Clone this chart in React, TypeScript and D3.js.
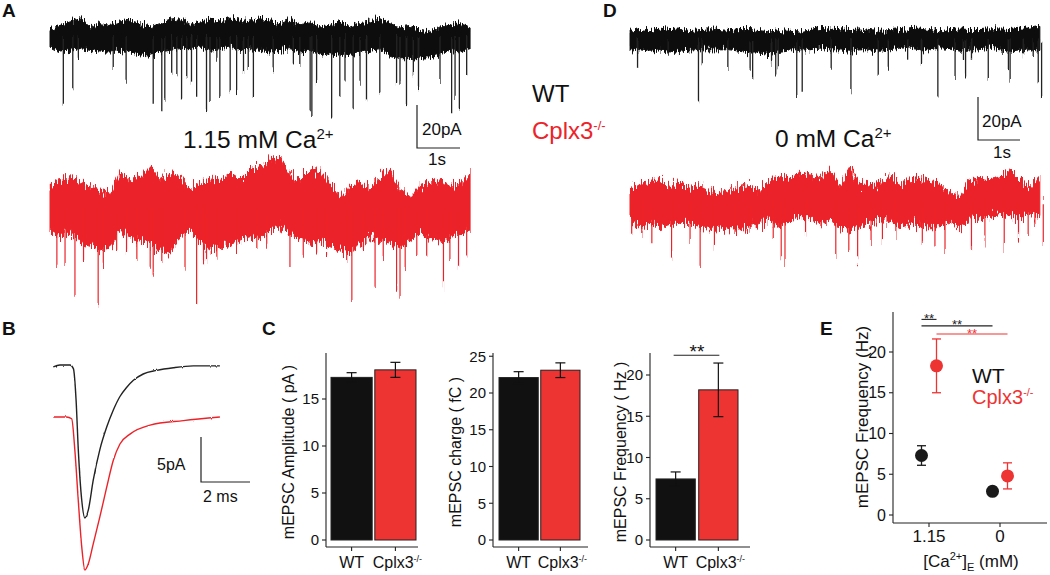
import React from 'react';
import * as d3 from 'd3';

const FONT = "'Liberation Sans', Arial, Helvetica, sans-serif";
const RED = '#EE3333';
const TRED = '#EC2329';
const INK = '#111111';

// ---------------- Panel A (1.15 mM Ca2+) : recordings, pA vs s ----------------
// envelope samples every 0.2326 s
const aWtTop = [3.9,5.4,7.0,8.5,4.7,6.2,5.4,7.0,7.8,6.2,4.7,6.2,7.8,8.5,5.4,7.0,7.8,7.0,8.8,7.8,7.0,8.5,7.0,6.2,7.8,6.2,7.0,4.7,5.4,7.8,4.7,6.2,7.0,8.5,6.2,4.7,5.4,3.1,2.3,4.7,5.4,6.2,4.7];
const aWtBottom = [-4.7,-7.0,-6.2,-5.4,-6.2,-7.0,-7.0,-6.2,-7.0,-7.8,-8.5,-7.0,-6.2,-5.4,-5.4,-4.7,-6.2,-5.4,-4.7,-6.2,-5.4,-6.2,-7.0,-6.2,-5.4,-7.0,-6.2,-8.5,-7.8,-8.5,-8.5,-7.0,-6.2,-5.4,-8.5,-10.1,-10.1,-9.3,-9.3,-7.8,-6.2,-7.0,-5.4];
const aWtEvents: [number, number][] = [
  [0.31,-31.0],[0.53,-24.8],[0.66,-10.1],[1.47,-14.0],[1.77,-21.7],[2.40,-31.0],[2.60,-34.1],[2.67,-28.7],
  [2.83,-17.1],[2.95,-17.8],[3.06,-29.5],[3.18,-17.8],[3.29,-21.7],[3.41,-26.4],[3.64,-34.9],[3.72,-30.2],
  [3.88,-10.1],[3.95,-27.1],[4.19,-24.8],[4.34,-25.6],[4.50,-16.3],[4.61,-14.0],[4.73,-27.9],[5.19,-15.5],
  [5.66,-13.2],[5.81,-12.4],[6.05,-34.1],[6.09,-37.2],[6.20,-21.7],[6.55,-38.8],[6.74,-27.1],[6.86,-20.2],
  [7.05,-34.1],[7.21,-21.7],[7.36,-29.5],[7.67,-27.1],[8.06,-21.7],[8.14,-21.7],[8.29,-32.6],[8.45,-17.8],
  [8.57,-23.3],[9.07,-20.9],[9.34,-36.4],[9.42,-28.7],[9.52,-34.1],[9.69,-17.8]
];
const aKoTop = [10.9,14.0,15.5,13.2,10.9,9.3,7.8,17.1,14.0,15.5,20.2,14.7,17.1,15.5,9.3,12.4,14.0,13.2,17.1,14.0,18.6,20.2,23.3,24.8,16.3,14.0,18.6,17.8,13.2,6.2,10.9,12.4,9.3,15.5,18.6,9.3,6.2,10.9,12.4,14.0,10.9,12.4,17.1];
const aKoBottom = [-9.3,-12.4,-10.9,-14.0,-15.5,-18.6,-17.1,-10.9,-12.4,-14.0,-17.1,-18.6,-20.2,-12.4,-9.3,-15.5,-18.6,-17.1,-15.5,-14.0,-12.4,-14.0,-9.3,-7.8,-10.9,-14.0,-15.5,-14.0,-17.1,-18.6,-20.2,-15.5,-12.4,-14.0,-15.5,-17.1,-14.0,-10.9,-14.0,-15.5,-12.4,-10.9,-9.3];
const aKoEvents: [number, number][] = [
  [0.16,-26.4],[0.35,-25.6],[0.58,-40.3],[0.78,-23.3],[1.12,-43.4],[1.24,-26.4],[1.55,-18.6],[1.78,-20.2],
  [2.02,-23.3],[2.33,-26.4],[2.40,-31.0],[2.60,-23.3],[3.14,-26.4],[3.41,-43.4],[3.57,-24.8],[3.64,-23.3],
  [3.88,-21.7],[4.34,-18.6],[4.81,-18.6],[5.04,-17.1],[5.58,-27.9],[5.89,-21.7],[6.20,-20.2],[6.43,-18.6],
  [6.90,-23.3],[7.02,-41.9],[7.29,-18.6],[7.56,-35.7],[7.75,-23.3],[8.06,-35.7],[8.14,-40.3],[8.26,-27.9],
  [8.53,-23.3],[8.76,-21.7],[9.15,-36.4],[9.30,-23.3],[9.50,-26.4],[9.69,-20.2]
];

// ---------------- Panel D (0 mM Ca2+) ----------------
// envelope samples every 0.238 s
const dWtTop = [3.9,4.7,4.2,5.4,4.7,5.0,4.2,4.7,5.1,4.7,4.2,4.7,4.7,4.2,3.6,4.2,3.9,3.6,4.7,5.7,5.4,5.1,4.7,5.0,4.2,3.9,4.2,4.7,5.1,5.4,4.7,4.2,4.7,5.0,4.7,4.7,5.1,5.0,4.7,5.4,5.4,6.2];
const dWtBottom = [-4.7,-4.7,-5.4,-4.7,-6.2,-5.4,-4.7,-4.7,-4.7,-4.7,-4.7,-5.4,-6.2,-6.2,-7.0,-5.4,-4.7,-4.7,-4.7,-3.9,-4.7,-4.7,-5.4,-4.7,-4.7,-5.4,-4.7,-3.9,-3.9,-4.7,-4.7,-3.9,-3.9,-5.4,-4.7,-4.7,-3.9,-4.7,-5.4,-4.7,-4.7,-5.4];
const dWtEvents: [number, number][] = [
  [0.18,-14.0],[0.91,-7.0],[1.63,-28.7],[1.72,-12.4],[2.33,-13.2],[2.86,-14.0],[2.92,-18.6],[3.37,-10.1],
  [3.47,-17.1],[3.53,-12.4],[3.97,-27.1],[4.10,-25.6],[4.79,-14.0],[5.26,-24.0],[5.91,-16.3],[6.15,-14.0],
  [6.61,-9.3],[6.94,-11.6],[7.33,-26.4],[7.74,-17.8],[7.94,-9.3],[7.99,-17.1],[8.13,-9.3],[8.53,-18.6],
  [9.01,-13.2],[9.05,-18.6],[9.37,-7.8],[9.60,-8.5],[9.72,-20.2],[9.80,-27.1]
];
const dKoTop = [6.2,9.3,10.1,11.6,7.8,9.3,7.0,7.8,5.4,4.7,6.2,7.0,7.8,5.4,10.9,12.4,11.6,14.0,13.2,12.4,15.5,7.8,16.3,9.3,8.5,9.3,13.2,9.3,10.9,11.6,10.1,9.3,4.7,3.1,10.9,11.6,10.9,12.4,15.5,10.9,7.8,12.4];
const dKoBottom = [-7.8,-10.9,-9.3,-10.9,-9.3,-9.3,-9.3,-10.9,-12.4,-10.9,-12.4,-12.4,-10.9,-9.3,-7.8,-10.9,-7.8,-6.2,-6.2,-9.3,-7.8,-10.9,-12.4,-10.9,-9.3,-7.8,-7.8,-10.9,-9.3,-10.9,-10.9,-10.9,-9.3,-10.9,-7.8,-6.2,-6.2,-4.7,-6.2,-6.2,-4.7,-6.2];
const dKoEvents: [number, number][] = [
  [0.04,-13.2],[0.28,-14.7],[0.52,-18.6],[0.99,-24.8],[1.43,-17.1],[1.67,-29.5],[2.01,-21.7],[2.50,-14.7],
  [2.86,-13.2],[3.41,-17.1],[3.60,-25.6],[3.69,-27.9],[4.18,-15.5],[4.90,-24.0],[5.21,-21.7],[5.42,-25.6],
  [5.74,-19.4],[6.01,-17.1],[6.33,-14.7],[6.96,-20.2],[7.26,-17.8],[7.50,-22.5],[8.13,-20.2],[8.45,-17.8],
  [8.91,-21.7],[9.25,-15.5],[9.48,-14.7],[9.64,-10.9],[9.84,-17.1]
];

// ---------------- Panel B : averaged mEPSC (pA vs ms) ----------------
const bWtTime = [0,0.27,0.68,0.82,0.93,1.02,1.16,1.29,1.43,1.63,1.90,2.18,2.45,2.72,2.99,3.27,3.67,4.22,4.90,5.71,6.80];
const bWtCurrent = [-0.2,0,0,-0.4,-3.9,-9.4,-15.0,-17.0,-16.1,-12.8,-9.4,-6.9,-5.0,-3.5,-2.5,-1.7,-1.0,-0.6,-0.3,-0.1,-0.1];
const bKoTime = [0,0.54,0.75,0.88,1.02,1.16,1.29,1.43,1.63,1.90,2.18,2.45,2.72,3.13,3.95,5.31,6.80];
const bKoCurrent = [0,0,-0.2,-3.7,-9.3,-14.4,-17.0,-16.3,-14.1,-11.1,-7.8,-4.8,-3.0,-1.9,-0.9,-0.4,0];

// ---------------- Panel C : bar charts ----------------
const cGenotypes = ['WT', 'Cplx3'];
const ampMean = [17.3, 18.1];
const ampSem = [0.5, 0.8];
const chargeMean = [22.1, 23.1];
const chargeSem = [0.8, 1.0];
const freqMean = [7.4, 18.2];
const freqSem = [0.85, 3.25];
const ampTicks = [0, 5, 10, 15];
const chargeTicks = [0, 5, 10, 15, 20, 25];
const freqTicks = [0, 5, 10, 15, 20];

// ---------------- Panel E ----------------
const eCalcium = ['1.15', '0'];
const eWtMean = [7.3, 2.9];
const eWtSem = [1.2, 0.5];
const eKoMean = [18.3, 4.8];
const eKoSem = [3.3, 1.6];
const eTicks = [0, 5, 10, 15, 20];

type TraceProps = {
  top: number[]; bottom: number[]; events: [number, number][]; step: number;
  x0: number; pxPerS: number; yMid: number; pxPerPA: number; color: string; spikeColor: string; spikeWidth: number;
  filter: string;
};
function Trace(p: TraceProps) {
  const x = d3.scaleLinear().domain([0, 1]).range([p.x0, p.x0 + p.pxPerS]);
  const y = d3.scaleLinear().domain([0, 1]).range([p.yMid, p.yMid - p.pxPerPA]);
  const area = d3.area<number>()
    .x((_, i) => x(i * p.step))
    .y0((_, i) => y(p.bottom[i]))
    .y1((d) => y(d));
  return (
    <g filter={`url(#${p.filter})`}>
      <path d={area(p.top) || ''} fill={p.color} stroke={p.color} strokeWidth={1} strokeLinejoin="round" />
      {p.events.map(([t, a], i) => (
        <line key={i} x1={x(t)} x2={x(t)} y1={y(0)} y2={y(a)} stroke={p.spikeColor} strokeWidth={p.spikeWidth} />
      ))}
    </g>
  );
}

function ScaleBar({ x, y, w, h, vLabel, hLabel, vx, vy, hx, hy, size }: any) {
  return (
    <g fontFamily={FONT} fontSize={size} fill="#111">
      <path d={`M${x},${y - h}V${y}H${x + w}`} fill="none" stroke="#222" strokeWidth={1.2} />
      <text x={vx} y={vy}>{vLabel}</text>
      <text x={hx} y={hy}>{hLabel}</text>
    </g>
  );
}

type BarProps = {
  means: number[]; sems: number[]; ticks: number[]; label: string; axisX: number; axisEnd: number;
  bandStart: number; bandEnd: number; pad: number; pxPerUnit: number; labelX: number; sigLevel?: number;
};
function BarChart(p: BarProps) {
  const yBase = 540, yTopPx = 353, xAxisY = 547;
  const y = d3.scaleLinear().domain([0, (yBase - yTopPx) / p.pxPerUnit]).range([yBase, yTopPx]);
  const x = d3.scaleBand().domain(cGenotypes).range([p.bandStart, p.bandEnd]).paddingInner(p.pad);
  const fills = [INK, RED];
  const bw = x.bandwidth();
  return (
    <g fontFamily={FONT}>
      {cGenotypes.map((g, i) => (
        <rect key={g} x={x(g)!} y={y(p.means[i])} width={bw} height={y(0) - y(p.means[i])}
          fill={fills[i]} stroke="#222" strokeWidth={1} />
      ))}
      {cGenotypes.map((g, i) => {
        const cx = x(g)! + bw / 2;
        const y1 = y(p.means[i] + p.sems[i]);
        const y2 = y(p.means[i] - p.sems[i]);
        return (
          <g key={g} stroke="#111" strokeWidth={1.2}>
            <line x1={cx} x2={cx} y1={y1} y2={y2} />
            <line x1={cx - 5} x2={cx + 5} y1={y1} y2={y1} />
            <line x1={cx - 5} x2={cx + 5} y1={y2} y2={y2} />
          </g>
        );
      })}
      <line x1={p.axisX} x2={p.axisX} y1={yTopPx} y2={xAxisY} stroke="#222" strokeWidth={1.1} />
      <line x1={p.axisX} x2={p.axisEnd} y1={xAxisY} y2={xAxisY} stroke="#222" strokeWidth={1.1} />
      {p.ticks.map((t) => (
        <g key={t}>
          <line x1={p.axisX - 4} x2={p.axisX} y1={y(t)} y2={y(t)} stroke="#222" strokeWidth={1.1} />
          <text x={p.axisX - 7} y={y(t)} dy="0.35em" textAnchor="end" fontSize={15} fill="#111">{t}</text>
        </g>
      ))}
      {cGenotypes.map((g) => {
        const cx = x(g)! + bw / 2;
        return <line key={g} x1={cx} x2={cx} y1={xAxisY} y2={xAxisY + 4} stroke="#222" strokeWidth={1.1} />;
      })}
      <text x={x('WT')! + bw / 2} y={568} textAnchor="middle" fontSize={16} fill="#111">WT</text>
      <text x={x('Cplx3')! + bw / 2 + 2} y={568} textAnchor="middle" fontSize={16} fill="#111">
        Cplx3<tspan dy={-6} fontSize={9}>-/-</tspan>
      </text>
      <text transform={`translate(${p.labelX},452) rotate(-90)`} textAnchor="middle" dominantBaseline="central"
        fontSize={16} fill="#111">{p.label}</text>
      {p.sigLevel !== undefined && (
        <g>
          <line x1={x('WT')! + bw / 2 - 2} x2={x('Cplx3')! + bw / 2 + 1} y1={y(p.sigLevel)} y2={y(p.sigLevel)}
            stroke="#222" strokeWidth={1.1} />
          <text x={(x('WT')! + x('Cplx3')! + bw) / 2} y={y(p.sigLevel) + 3} textAnchor="middle" fontSize={19} fill="#111">**</text>
        </g>
      )}
    </g>
  );
}

function PanelE() {
  const y = d3.scaleLinear().domain([0, (515 - 312) / 8.15]).range([515, 312]);
  const x = d3.scalePoint().domain(eCalcium).range([929, 1000]);
  const dodge = 7.5;
  const series = [
    { key: 'WT', mean: eWtMean, sem: eWtSem, color: '#1a1a1a', off: -dodge },
    { key: 'Cplx3', mean: eKoMean, sem: eKoSem, color: RED, off: dodge },
  ];
  const pos = (s: string, c: string) => x(c)! + (s === 'WT' ? -dodge : dodge);
  const sigs = [
    { a: ['WT', '1.15'], b: ['Cplx3', '1.15'], level: 24.0, color: '#222' },
    { a: ['WT', '1.15'], b: ['WT', '0'], level: 23.2, color: '#222' },
    { a: ['Cplx3', '1.15'], b: ['Cplx3', '0'], level: 22.2, color: RED },
  ];
  return (
    <g fontFamily={FONT}>
      <line x1={893} x2={893} y1={312} y2={523} stroke="#222" strokeWidth={1.1} />
      <line x1={893} x2={1047} y1={523} y2={523} stroke="#222" strokeWidth={1.1} />
      {eTicks.map((t) => (
        <g key={t}>
          <line x1={889} x2={893} y1={y(t)} y2={y(t)} stroke="#222" strokeWidth={1.1} />
          <text x={886} y={y(t)} dy="0.35em" textAnchor="end" fontSize={16} fill="#111">{t}</text>
        </g>
      ))}
      {eCalcium.map((c) => (
        <g key={c}>
          <line x1={x(c)!} x2={x(c)!} y1={523} y2={527} stroke="#222" strokeWidth={1.1} />
          <text x={x(c)!} y={542} textAnchor="middle" fontSize={17} fill="#111">{c}</text>
        </g>
      ))}
      {sigs.map((s, i) => {
        const x1 = pos(s.a[0], s.a[1]);
        const x2 = pos(s.b[0], s.b[1]);
        return (
          <g key={i}>
            <line x1={x1} x2={x2} y1={y(s.level)} y2={y(s.level)} stroke={s.color} strokeWidth={1.1} />
            <text x={(x1 + x2) / 2} y={y(s.level) + 3.5} textAnchor="middle" fontSize={13} fill={s.color}>**</text>
          </g>
        );
      })}
      {series.map((s) =>
        eCalcium.map((c, i) => {
          const cx = x(c)! + s.off;
          const y1 = y(s.mean[i] + s.sem[i]);
          const y2 = y(s.mean[i] - s.sem[i]);
          return (
            <g key={s.key + c}>
              <g stroke={s.color} strokeWidth={1.3}>
                <line x1={cx} x2={cx} y1={y1} y2={y2} />
                <line x1={cx - 4.5} x2={cx + 4.5} y1={y1} y2={y1} />
                <line x1={cx - 4.5} x2={cx + 4.5} y1={y2} y2={y2} />
              </g>
              <circle cx={cx} cy={y(s.mean[i])} r={6.5} fill={s.color} />
            </g>
          );
        })
      )}
      <text x={972} y={383} fontSize={21} fill="#111">WT</text>
      <text x={972} y={404} fontSize={20} fill={RED}>Cplx3<tspan dy={-8} fontSize={11}>-/-</tspan></text>
      <text transform="translate(862,417) rotate(-90)" textAnchor="middle" dominantBaseline="central" fontSize={17} fill="#111">
        mEPSC Frequency (Hz)
      </text>
      <text x={971} y={567} textAnchor="middle" fontSize={17} fill="#111">
        [Ca<tspan dy={-7} fontSize={11}>2+</tspan><tspan dy={7}>]</tspan><tspan dy={4} fontSize={11}>E</tspan><tspan dy={-4}> (mM)</tspan>
      </text>
    </g>
  );
}

function PanelB() {
  const x = d3.scaleLinear().domain([0, 1]).range([53.3, 53.3 + 24.5]);
  const yWt = d3.scaleLinear().domain([0, 1]).range([365, 356]);
  const yKo = d3.scaleLinear().domain([0, 1]).range([417, 408]);
  const lineWt = d3.line<number>().x((_, i) => x(bWtTime[i])).y((d) => yWt(d)).curve(d3.curveMonotoneX);
  const lineKo = d3.line<number>().x((_, i) => x(bKoTime[i])).y((d) => yKo(d)).curve(d3.curveMonotoneX);
  return (
    <g>
      <g filter="url(#fineNoise)">
        <path d={lineWt(bWtCurrent) || ''} fill="none" stroke="#222" strokeWidth={1.4} />
        <path d={lineKo(bKoCurrent) || ''} fill="none" stroke={TRED} strokeWidth={1.4} />
      </g>
      <ScaleBar x={201} y={482} w={x(2) - x(0)} h={yWt(0) - yWt(5)} vLabel="5pA" hLabel="2 ms"
        vx={157} vy={470} hx={203} hy={502} size={16} />
    </g>
  );
}

// SVG texture filter: vertical-only jitter of the rendered trace edges (rendering style only)
function NoiseFilter({ id, scale, fx, seed }: { id: string; scale: number; fx: number; seed: number }) {
  return (
    <filter id={id} x="-2%" y="-20%" width="104%" height="140%" filterUnits="objectBoundingBox">
      <feTurbulence type="fractalNoise" baseFrequency={`${fx} 0.08`} numOctaves={2} seed={seed} result="n" />
      <feColorMatrix in="n" type="matrix"
        values="0 0 0 0 0.5  0 1 0 0 0  0 0 1 0 0  0 0 0 0 1" result="m" />
      <feDisplacementMap in="SourceGraphic" in2="m" scale={scale} xChannelSelector="R" yChannelSelector="G" />
    </filter>
  );
}

export default function App() {
  const supDy = -9;
  return (
    <svg width={1050} height={575} viewBox="0 0 1050 575"
      style={{ position: 'absolute', left: 0, top: 0, background: '#fff' }} fontFamily={FONT}>
      <defs>
        <NoiseFilter id="noiseBlack" scale={14} fx={0.9} seed={3} />
        <NoiseFilter id="noiseRed" scale={24} fx={0.9} seed={7} />
        <NoiseFilter id="fineNoise" scale={2} fx={0.6} seed={5} />
      </defs>
      <rect width={1050} height={575} fill="#fff" />
      {/* panel letters */}
      <g fontSize={19} fontWeight="bold" fill="#111">
        <text x={2} y={17}>A</text>
        <text x={603} y={17}>D</text>
        <text x={2} y={335}>B</text>
        <text x={262} y={335}>C</text>
        <text x={820} y={335}>E</text>
      </g>

      {/* Panel A traces */}
      <Trace top={aWtTop} bottom={aWtBottom} events={aWtEvents} step={0.2326} x0={50} pxPerS={43}
        yMid={37} pxPerPA={2.15} color={INK} spikeColor="#222" spikeWidth={1.3} filter="noiseBlack" />
      <Trace top={aKoTop} bottom={aKoBottom} events={aKoEvents} step={0.2326} x0={50} pxPerS={43}
        yMid={210} pxPerPA={2.15} color={TRED} spikeColor={TRED} spikeWidth={1.2} filter="noiseRed" />
      <ScaleBar x={417} y={148} w={43} h={43} vLabel="20pA" hLabel="1s" vx={422} vy={135} hx={428} hy={165} size={17} />
      <text x={183} y={148} fontSize={24.5} fill="#111">1.15 mM Ca<tspan dy={supDy} fontSize={15}>2+</tspan></text>

      {/* middle legend */}
      <text x={532} y={102} fontSize={24} fill="#111">WT</text>
      <text x={532} y={139} fontSize={24} fill={TRED}>Cplx3<tspan dy={-9} fontSize={13}>-/-</tspan></text>

      {/* Panel D traces */}
      <Trace top={dWtTop} bottom={dWtBottom} events={dWtEvents} step={0.238} x0={630} pxPerS={42}
        yMid={39.7} pxPerPA={2.15} color={INK} spikeColor="#222" spikeWidth={1.3} filter="noiseBlack" />
      <Trace top={dKoTop} bottom={dKoBottom} events={dKoEvents} step={0.238} x0={630} pxPerS={42}
        yMid={203.3} pxPerPA={2.15} color={TRED} spikeColor={TRED} spikeWidth={1.2} filter="noiseRed" />
      <ScaleBar x={978} y={140} w={42} h={43} vLabel="20pA" hLabel="1s" vx={982} vy={127} hx={993} hy={158} size={17} />
      <text x={775} y={147} fontSize={24.5} fill="#111">0 mM Ca<tspan dy={supDy} fontSize={15}>2+</tspan></text>

      <PanelB />

      <BarChart means={ampMean} sems={ampSem} ticks={ampTicks} label="mEPSC Amplitude ( pA )"
        axisX={326} axisEnd={418} bandStart={331} bandEnd={416} pad={0.06} pxPerUnit={9.4} labelX={288} />
      <BarChart means={chargeMean} sems={chargeSem} ticks={chargeTicks} label="mEPSC charge ( fC )"
        axisX={493} axisEnd={588} bandStart={499} bandEnd={580} pad={0.06} pxPerUnit={7.35} labelX={455} />
      <BarChart means={freqMean} sems={freqSem} ticks={freqTicks} label="mEPSC Frequency ( Hz )"
        axisX={650} axisEnd={750} bandStart={656} bandEnd={738} pad={0.08} pxPerUnit={8.25} labelX={620} sigLevel={22.4} />

      <PanelE />
    </svg>
  );
}
